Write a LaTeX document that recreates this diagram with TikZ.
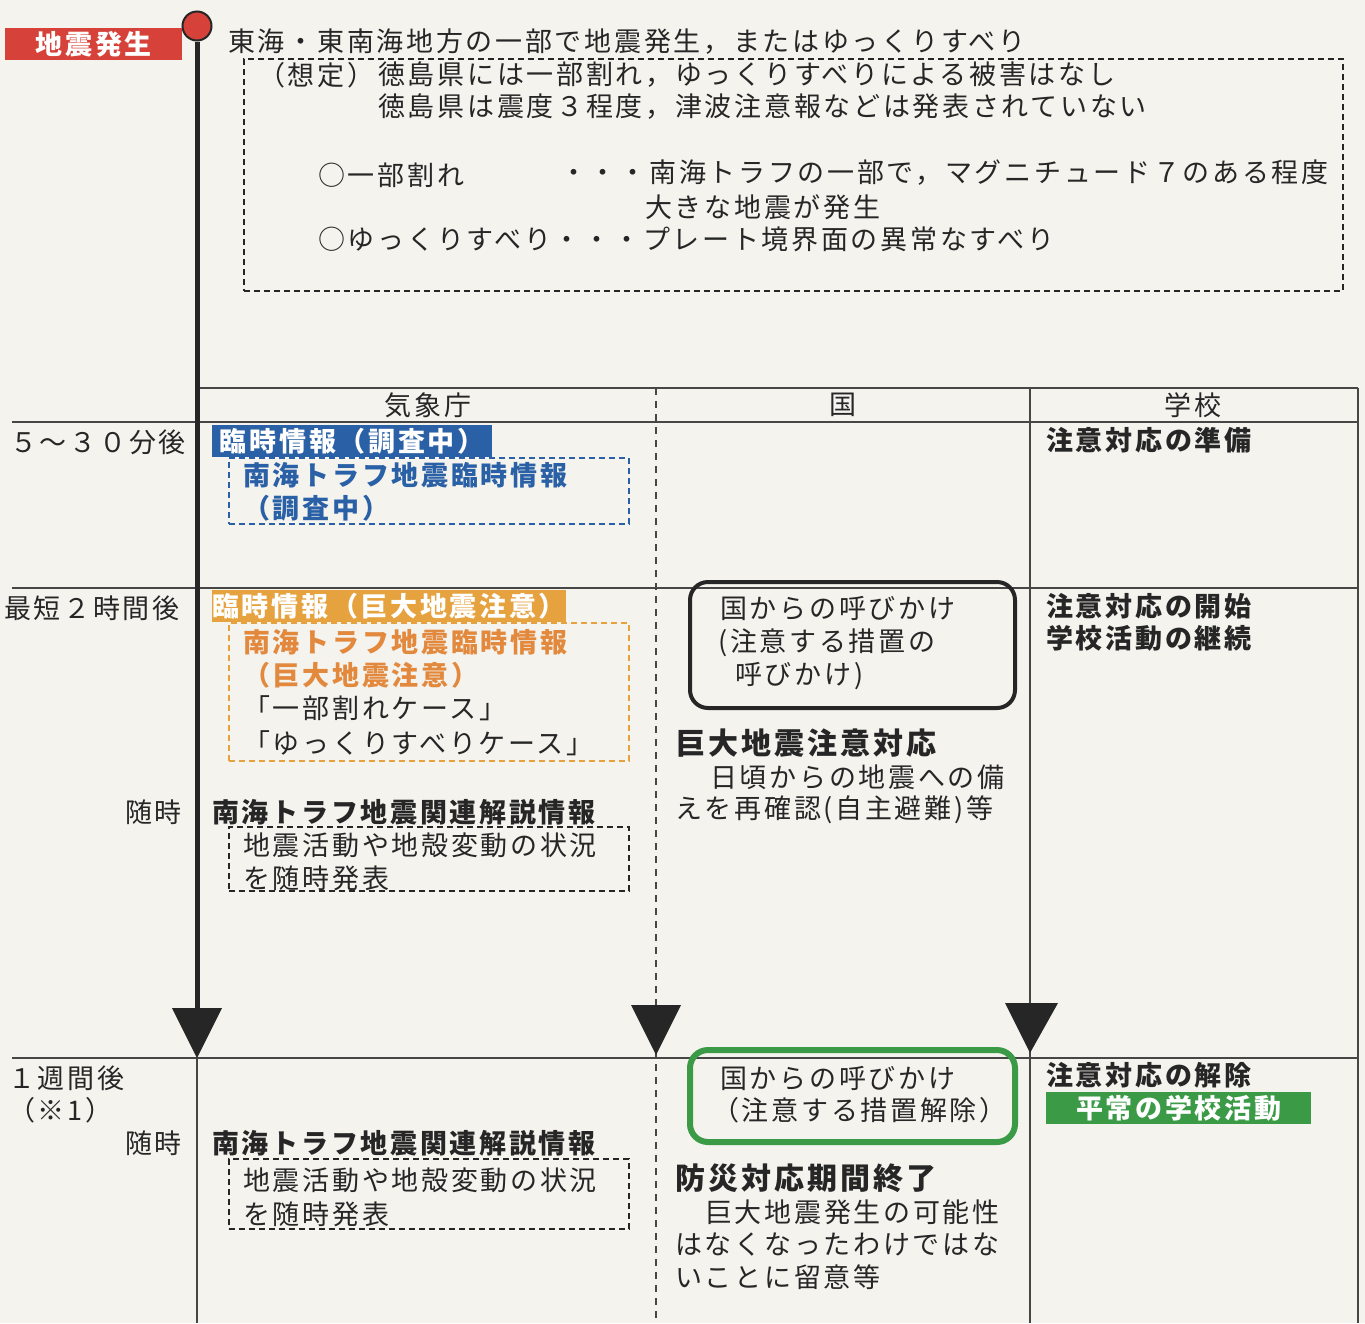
\documentclass[tikz,border=0pt]{standalone}
\usepackage{fontspec}
\setmainfont{Noto Sans CJK JP}[LetterSpace=10]
\usetikzlibrary{shapes.geometric}
\definecolor{paper}{RGB}{244,243,238}
\definecolor{ink}{RGB}{38,38,38}
\definecolor{gridc}{RGB}{70,70,70}
\definecolor{redc}{RGB}{214,66,58}
\definecolor{bluec}{RGB}{42,96,166}
\definecolor{orangec}{RGB}{229,162,62}
\definecolor{orangetxt}{RGB}{226,137,62}
\definecolor{greenc}{RGB}{58,154,70}
\newcommand{\fsn}{\fontsize{27pt}{32pt}\selectfont}
\newcommand{\fsb}{\fontsize{30pt}{36pt}\selectfont}
\tikzset{
  txt/.style={anchor=west, inner sep=0pt, font=\fsn, text=ink},
  btxt/.style={txt, font=\fsn\bfseries},
  bigtxt/.style={txt, font=\fsb\bfseries},
  hdr/.style={anchor=center, inner sep=0pt, font=\fsn, text=ink},
  lab/.style={anchor=north west, inner sep=0pt, font=\fsn\bfseries, text=white},
  dbox/.style={draw=ink, dashed, dash pattern=on 6pt off 4pt, line width=1.5pt, anchor=north west, inner sep=0pt},
  rule/.style={draw=gridc, line width=2pt},
  tri/.style={fill=ink},
}
\begin{document}
\begin{tikzpicture}[x=1pt,y=-1pt]
\useasboundingbox (0,0) rectangle (1365,1323);
\fill[paper] (0,0) rectangle (1365,1323);

% ---------- table rules ----------
\draw[rule] (197,388) -- (1358,388);
\draw[rule] (12,422) -- (1358,422);
\draw[rule] (12,588) -- (1358,588);
\draw[rule] (12,1058) -- (1358,1058);
\draw[rule] (1030,388) -- (1030,1323);
\draw[rule] (1358,388) -- (1358,1323);
\draw[draw=gridc, line width=1.8pt, dash pattern=on 7pt off 6pt] (656,388) -- (656,1323);
\draw[rule] (197,1058) -- (197,1323);

% ---------- timeline ----------
\node[circle, fill=redc, draw=ink, line width=2pt, minimum size=29pt, inner sep=0pt] (origin) at (197,26) {};
\coordinate (tlend) at (197,1015);
\draw[ink, line width=5pt] (origin.south) -- (tlend);
\fill[tri] (172,1008) -- (222,1008) -- (197,1058) -- cycle;
\fill[tri] (631,1005) -- (681,1005) -- (656,1055) -- cycle;
\fill[tri] (1005,1003) -- (1058,1003) -- (1030,1053) -- cycle;

% ---------- top: quake ----------
\node[lab, fill=redc, minimum width=177pt, minimum height=32pt, align=center] (quake) at (5,28) {地震発生};
\node[txt] (head) at (228,42) {東海・東南海地方の一部で地震発生，またはゆっくりすべり};
\node[dbox, minimum width=1099pt, minimum height=232pt] (assume) at (243,58) {};
\node[txt] (soutei) at (258,75) {（想定）};
\node[txt] (as1) at (378,75) {徳島県には一部割れ，ゆっくりすべりによる被害はなし};
\node[txt] (as2) at (378,107) {徳島県は震度３程度，津波注意報などは発表されていない};
\node[txt] (ib1) at (318,175) {○一部割れ};
\node[txt] (ib2) at (560,173) {・・・南海トラフの一部で，マグニチュード７のある程度};
\node[txt] (ib3) at (645,207) {大きな地震が発生};
\node[txt] (ib4) at (318,239) {○ゆっくりすべり・・・プレート境界面の異常なすべり};

% ---------- headers ----------
\node[hdr] (hjma) at (428,405) {気象庁};
\node[hdr] (hkuni) at (843,405) {国};
\node[hdr] (hschool) at (1193,405) {学校};

% ---------- row 1 ----------
\node[txt] (t1) at (10,442) {５～３０分後};
\node[lab, fill=bluec, minimum width=280pt, minimum height=32pt] (blab) at (212,425) {臨時情報（調査中）};
\node[dbox, draw=bluec, minimum width=400pt, minimum height=66pt] (bbox) at (228,457) {};
\node[btxt, text=bluec] (b1) at (243,475) {南海トラフ地震臨時情報};
\node[btxt, text=bluec] (b2) at (243,508) {（調査中）};
\node[btxt] (s1) at (1046,440) {注意対応の準備};

% ---------- row 2 ----------
\node[txt] (t2) at (4,608) {最短２時間後};
\node[lab, fill=orangec, minimum width=343pt, minimum height=32pt] (olab) at (212,590) {臨時情報（巨大地震注意）};
\node[dbox, draw=orangec, minimum width=400pt, minimum height=138pt] (obox) at (228,622) {};
\node[btxt, text=orangetxt] (o1) at (243,642) {南海トラフ地震臨時情報};
\node[btxt, text=orangetxt] (o2) at (243,675) {（巨大地震注意）};
\node[txt] (o3) at (243,708) {「一部割れケース」};
\node[txt] (o4) at (243,743) {「ゆっくりすべりケース」};

\node[txt, anchor=east] (zuiji1) at (182,812) {随時};
\node[btxt] (kanren1) at (212,812) {南海トラフ地震関連解説情報};
\node[dbox, minimum width=400pt, minimum height=64pt] (kbox1) at (228,826) {};
\node[txt] (k11) at (243,845) {地震活動や地殻変動の状況};
\node[txt] (k12) at (243,878) {を随時発表};

\draw[ink, line width=4pt, rounded corners=18pt] (690,582) rectangle (1015,708);
\node[txt] (call1) at (720,608) {国からの呼びかけ};
\node[txt] (call2) at (718,643) {(注意する措置の};
\node[txt] (call3) at (735,676) {呼びかけ)};
\node[bigtxt] (ch1) at (675,743) {巨大地震注意対応};
\node[txt] (ch2) at (710,777) {日頃からの地震への備};
\node[txt] (ch3) at (675,810) {えを再確認(自主避難)等};

\node[btxt] (s2) at (1046,606) {注意対応の開始};
\node[btxt] (s3) at (1046,638) {学校活動の継続};

% ---------- row 3 ----------
\node[txt] (t3) at (8,1078) {１週間後};
\node[txt] (t3b) at (8,1110) {（※1）};
\node[txt, anchor=east] (zuiji2) at (182,1143) {随時};
\node[btxt] (kanren2) at (212,1143) {南海トラフ地震関連解説情報};
\node[dbox, minimum width=400pt, minimum height=70pt] (kbox2) at (228,1158) {};
\node[txt] (k21) at (243,1180) {地震活動や地殻変動の状況};
\node[txt] (k22) at (243,1214) {を随時発表};

\draw[greenc, line width=6pt, rounded corners=18pt] (690,1050) rectangle (1015,1142);
\node[txt] (rel1) at (720,1078) {国からの呼びかけ};
\node[txt] (rel2) at (712,1110) {（注意する措置解除）};
\node[bigtxt] (end1) at (675,1178) {防災対応期間終了};
\node[txt] (end2) at (705,1212) {巨大地震発生の可能性};
\node[txt] (end3) at (675,1245) {はなくなったわけではな};
\node[txt] (end4) at (675,1277) {いことに留意等};

\node[btxt] (s4) at (1046,1075) {注意対応の解除};
\node[lab, fill=greenc, minimum width=265pt, minimum height=32pt, align=center] (glab) at (1046,1092) {平常の学校活動};
\end{tikzpicture}
\end{document}
